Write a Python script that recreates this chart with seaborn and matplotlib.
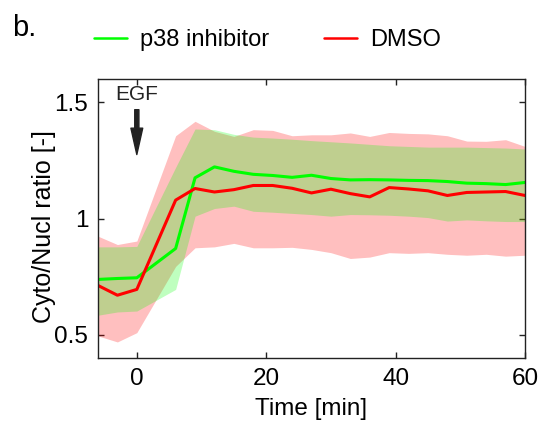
import numpy as np
import pandas as pd
import matplotlib
matplotlib.use("Agg")
import matplotlib.pyplot as plt
import seaborn as sns
from matplotlib.lines import Line2D

time = [-6, -3, 0, 6, 9, 12, 15, 18, 21, 24, 27, 30, 33, 36, 39, 42, 45, 48, 51, 54, 57, 60]

p38_mean = [0.738, 0.742, 0.745, 0.871, 1.175, 1.222, 1.203, 1.190, 1.185, 1.177, 1.186,
            1.172, 1.166, 1.167, 1.166, 1.164, 1.163, 1.159, 1.152, 1.150, 1.146, 1.155]
p38_upper = [0.878, 0.878, 0.880, 1.220, 1.385, 1.382, 1.362, 1.350, 1.346, 1.341, 1.335,
             1.330, 1.325, 1.319, 1.313, 1.310, 1.307, 1.307, 1.307, 1.305, 1.303, 1.299]
p38_lower = [0.584, 0.598, 0.602, 0.695, 1.010, 1.043, 1.053, 1.031, 1.027, 1.022, 1.017,
             1.010, 1.017, 1.016, 1.014, 1.010, 1.004, 0.989, 0.994, 0.990, 0.987, 0.987]

dmso_mean = [0.712, 0.670, 0.695, 1.079, 1.129, 1.114, 1.124, 1.142, 1.142, 1.130, 1.110,
             1.126, 1.107, 1.093, 1.133, 1.127, 1.119, 1.099, 1.112, 1.114, 1.116, 1.099]
dmso_upper = [0.924, 0.888, 0.903, 1.356, 1.418, 1.375, 1.353, 1.382, 1.379, 1.356, 1.360,
              1.360, 1.368, 1.353, 1.370, 1.366, 1.364, 1.356, 1.333, 1.332, 1.339, 1.310]
dmso_lower = [0.495, 0.469, 0.509, 0.794, 0.874, 0.878, 0.893, 0.874, 0.874, 0.876, 0.867,
              0.853, 0.828, 0.834, 0.853, 0.850, 0.853, 0.846, 0.842, 0.846, 0.838, 0.842]

series_names = ["p38 inhibitor", "DMSO"]
colors = {"p38 inhibitor": "#00ff00", "DMSO": "#ff0000"}

x_ticks = [0, 20, 40, 60]
y_ticks = [0.5, 1.0, 1.5]
y_tick_labels = ["0.5", "1", "1.5"]

df = pd.DataFrame({
    "time": time * 2,
    "value": p38_mean + dmso_mean,
    "condition": [series_names[0]] * len(time) + [series_names[1]] * len(time),
})

sns.set_theme(style="white")
plt.rcParams["font.family"] = ["Liberation Sans", "DejaVu Sans"]

fig = plt.figure(figsize=(5.43, 4.30), dpi=100)
ax = fig.add_axes([98 / 543, 1 - 358 / 430, (525 - 98) / 543, (358 - 79) / 430])

ax.fill_between(time, dmso_lower, dmso_upper, color="#ff0000", alpha=0.25, linewidth=0)
ax.fill_between(time, p38_lower, p38_upper, color="#00ff00", alpha=0.25, linewidth=0)

sns.lineplot(data=df, x="time", y="value", hue="condition", hue_order=series_names,
             palette=colors, linewidth=2.2, sort=False, legend=False, ax=ax)

ax.set_xlim(-6, 60)
ax.set_ylim(0.4, 1.6)
ax.set_xticks(x_ticks)
ax.set_yticks(y_ticks)
ax.set_yticklabels(y_tick_labels)
ax.tick_params(direction="in", length=4, width=1, color="#222222", top=True, right=True,
               bottom=True, left=True, labelsize=17.5, pad=7, labelcolor="black")
for s in ax.spines.values():
    s.set_color("#222222")
    s.set_linewidth(1.0)
    s.set_visible(True)

ax.set_xlabel("Time [min]", fontsize=17.5, color="black")
ax.set_ylabel("Cyto/Nucl ratio [-]", fontsize=18, color="black")
ax.xaxis.set_label_coords((311 - 98) / 427, -(409 - 358) / 279)
ax.yaxis.set_label_coords((44 - 98) / 427, (358 - 227) / 279)
ax.xaxis.label.set_va("center")
ax.yaxis.label.set_va("center")

# EGF arrow
ax.annotate("", xy=(0, 1.275), xytext=(0, 1.468),
            arrowprops=dict(width=3, headwidth=8.5, headlength=19, color="#222222", shrink=0))
ax.text(0, 1.532, "EGF", ha="center", va="center", fontsize=15, color="#222222")

# legend
handles = [Line2D([0], [0], color=colors[n], lw=1.8) for n in series_names]
fig.legend(handles, series_names, loc="center left", bbox_to_anchor=(73 / 543, 1 - 40 / 430),
           ncol=2, frameon=False, fontsize=17, handlelength=1.4, handletextpad=0.55,
           columnspacing=2.3, labelcolor="black")

fig.text(12 / 543, 1 - 28 / 430, "b.", fontsize=21, ha="left", va="center", color="black")

fig.savefig("out.png", dpi=100)
